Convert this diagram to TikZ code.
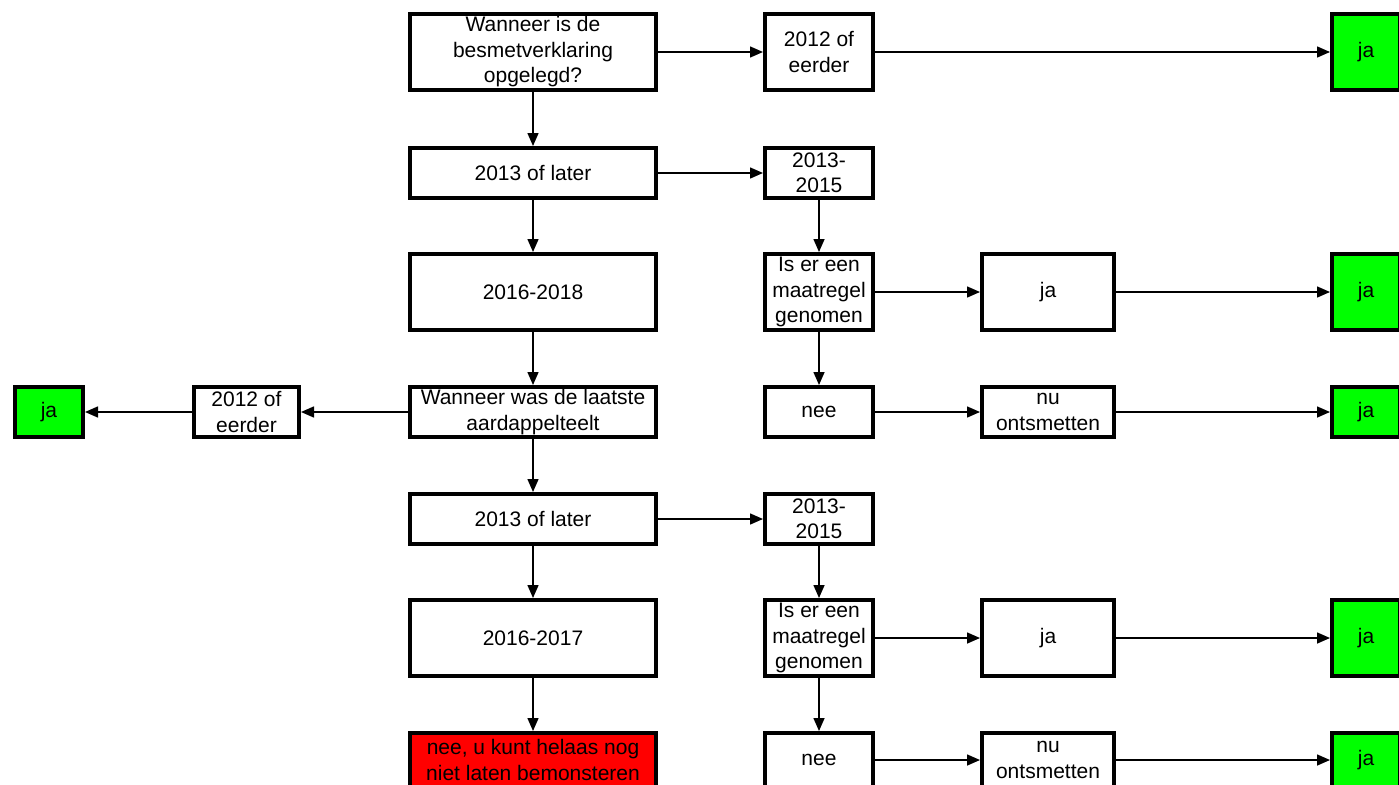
\documentclass[tikz,border=0pt]{standalone}
\usepackage{fontspec}
\setmainfont{Liberation Sans}
\usetikzlibrary{arrows.meta}
\definecolor{okgreen}{RGB}{0,255,0}
\definecolor{stopred}{RGB}{255,0,0}
\tikzstyle{box}=[draw,line width=4pt,align=center,inner sep=0pt,font=\fontsize{21}{25.5}\selectfont]
\tikzstyle{big}=[box,minimum width=246pt]
\tikzstyle{sml}=[box,minimum width=108pt]
\tikzstyle{mid}=[box,minimum width=132pt]
\tikzstyle{fin}=[box,fill=okgreen,minimum width=68pt]
\tikzstyle{hi}=[minimum height=76pt]
\tikzstyle{lo}=[minimum height=50pt]
\tikzstyle{arr}=[-{Triangle[length=13pt,width=11pt]},line width=1.5pt]

\begin{document}
\begin{tikzpicture}[x=1pt,y=-1pt]
  \clip (0,0) rectangle (1399,784);
  % main column
  \node[big,hi] (when) at (533,52) {Wanneer is de\\besmetverklaring\\opgelegd?};
  \node[sml,hi] (early) at (819,52) {2012 of\\eerder};
  \node[fin,hi] (okTop) at (1366,52) {ja};
  \node[big,lo] (laterA) at (533,173) {2013 of later};
  \node[big,hi] (yrsA) at (533,292) {2016-2018};
  \node[big,lo] (crop) at (533,412) {Wanneer was de laatste\\aardappelteelt};
  \node[sml,lo,minimum width=105pt] (earlyB) at (246.5,412) {2012 of\\eerder};
  \node[fin,lo] (okLeft) at (49,412) {ja};
  \node[big,lo] (laterB) at (533,519) {2013 of later};
  \node[big,hi] (yrsB) at (533,638) {2016-2017};
  \node[big,lo,fill=stopred,minimum height=54pt] (stop) at (533,760) {nee, u kunt helaas nog\\niet laten bemonsteren};
  \draw[arr] (when) -- (early);
  \draw[arr] (early) -- (okTop);
  \draw[arr] (when) -- (laterA);
  \draw[arr] (laterA) -- (yrsA);
  \draw[arr] (yrsA) -- (crop);
  \draw[arr] (crop) -- (earlyB);
  \draw[arr] (earlyB) -- (okLeft);
  \draw[arr] (crop) -- (laterB);
  \draw[arr] (laterB) -- (yrsB);
  \draw[arr] (yrsB) -- (stop);
  % right-hand branches
  \foreach \k/\dy/\ly/\lh in {A/0/412/50pt,B/346/760/54pt}{
    \node[sml,lo] (span\k) at (819,173+\dy) {2013-\\2015};
    \node[sml,hi] (ask\k) at (819,292+\dy) {Is er een\\maatregel\\genomen};
    \node[mid,hi] (yes\k) at (1048,292+\dy) {ja};
    \node[fin,hi] (okYes\k) at (1366,292+\dy) {ja};
    \node[sml,minimum height=\lh] (no\k) at (819,\ly) {nee};
    \node[mid,minimum height=\lh] (clean\k) at (1048,\ly) {nu\\ontsmetten};
    \node[fin,minimum height=\lh] (okClean\k) at (1366,\ly) {ja};
    \draw[arr] (later\k) -- (span\k);
    \draw[arr] (span\k) -- (ask\k);
    \draw[arr] (ask\k) -- (yes\k);
    \draw[arr] (yes\k) -- (okYes\k);
    \draw[arr] (ask\k) -- (no\k);
    \draw[arr] (no\k) -- (clean\k);
    \draw[arr] (clean\k) -- (okClean\k);
  }
\end{tikzpicture}
\end{document}
